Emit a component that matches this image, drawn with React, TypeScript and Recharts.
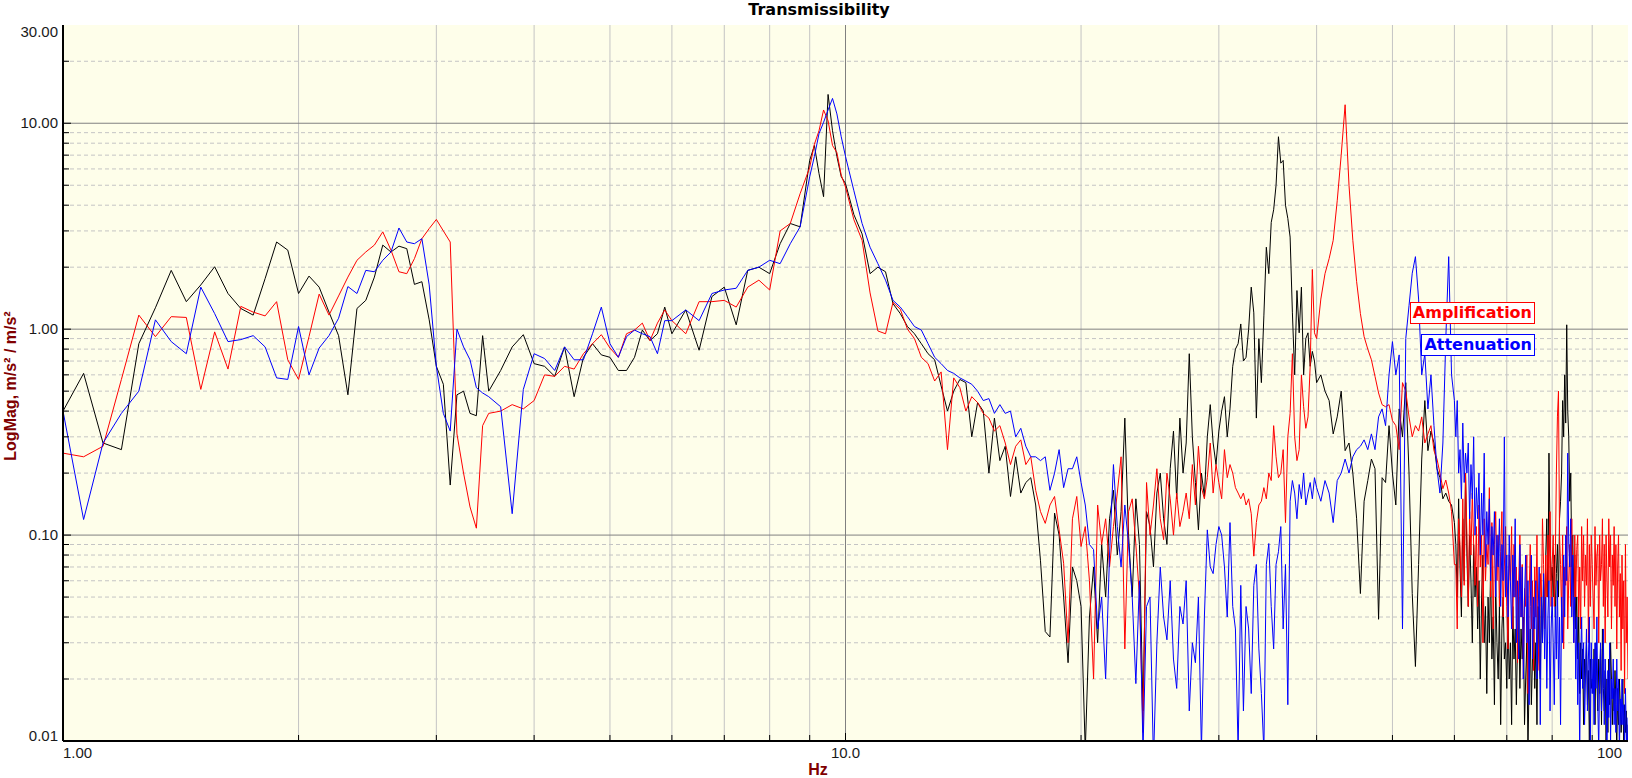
import React from 'react';
import { LineChart, Line, XAxis, YAxis, CartesianGrid } from 'recharts';

// Frequency grid segments (start Hz, step Hz)
const SEG_START = [1, 3.5, 6.25, 9.125, 10, 40.5, 60.25];
const SEG_STEP = [0.0625, 0.125, 0.25, 0.125, 0.25, 0.5, 0.25];

// ---------- Amplification (red) ----------
const ampA = [0.25, 0.24, 0.27, 0.57, 1.17, 0.92, 1.15, 1.14, 0.51, 0.97, 0.64, 1.29, 1.21, 1.16, 1.36, 0.71, 0.57, 0.92, 1.48, 1.17,
  1.45, 1.79, 2.16, 2.37, 2.56, 2.97, 2.42, 1.9, 1.86, 2.2, 2.75, 3.08, 3.41, 3.0, 2.65, 0.31, 0.2, 0.137, 0.108, 0.34];
const ampB = [0.39, 0.4, 0.43, 0.41, 0.45, 0.6, 0.59, 0.66, 0.64, 0.76, 0.85, 0.94, 0.81, 0.73, 0.95, 0.99, 1.07, 0.88, 1.07, 1.24, 1.1];
const ampC = [0.95, 1.36, 1.36, 1.38, 1.28, 1.6, 1.73, 1.55, 3.0, 3.26, 4.55, 6.1];
const ampD = [7.9, 9.2, 11.6, 10.3, 7.8, 7.2, 5.6];
const ampE = [
  4.9, 3.4, 2.7, 1.5, 0.98,
  0.95, 1.35, 1.25, 1.0, 0.9, 0.73, 0.68, 0.56, 0.62, 0.26, 0.58, 0.52,
  0.4, 0.47, 0.44, 0.39, 0.37, 0.32, 0.34, 0.28, 0.22, 0.27, 0.29, 0.22,
  0.24, 0.165, 0.13, 0.114, 0.14, 0.154, 0.106, 0.073, 0.03, 0.12, 0.154, 0.088,
  0.11, 0.06, 0.02, 0.14,
  0.09, 0.12, 0.07, 0.11,
  0.16, 0.24, 0.028, 0.13,
  0.15, 0.09, 0.05, 0.011,
  0.18, 0.1, 0.14, 0.21,
  0.12, 0.095, 0.2, 0.15,
  0.1, 0.16, 0.11, 0.13,
  0.16, 0.12, 0.22, 0.14,
  0.27, 0.17, 0.15, 0.19,
  0.28, 0.16, 0.22, 0.18,
  0.15, 0.26, 0.19, 0.22,
  0.2, 0.17, 0.16, 0.15,
  0.16, 0.14, 0.15, 0.127,
  0.079, 0.115, 0.14, 0.146,
  0.17, 0.15, 0.2, 0.184,
  0.34, 0.24, 0.19, 0.2,
  0.26, 0.115, 0.3, 0.39,
  0.76, 0.3, 0.23, 0.26,
  0.6, 0.42, 0.33, 0.375,
  0.66, 1.95, 0.96, 0.9,
];
const ampF = [
  1.4, 1.86, 2.2, 2.7, 4.2, 7.0, 12.3, 5.0, 2.7, 1.7, 1.19, 0.92, 0.8, 0.71, 0.59, 0.49, 0.43, 0.42, 0.43, 0.36,
  0.34, 0.26, 0.55, 0.5, 0.375, 0.3, 0.34, 0.32, 0.375, 0.28, 0.31, 0.34, 0.257, 0.234, 0.2, 0.168, 0.185, 0.16, 0.13, 0.072,
];
const ampG = [
  0.072, 0.035, 0.12, 0.09, 0.05, 0.15, 0.057, 0.2,
  0.1, 0.045, 0.13, 0.08, 0.16, 0.09, 0.057, 0.11,
  0.045, 0.14, 0.07, 0.1, 0.03, 0.12, 0.06, 0.09,
  0.072, 0.17, 0.05, 0.115, 0.035, 0.09, 0.13, 0.06,
  0.1, 0.045, 0.083, 0.13, 0.04, 0.07, 0.11, 0.045,
  0.028, 0.08, 0.06, 0.11, 0.035, 0.09, 0.05, 0.07,
  0.024, 0.06, 0.1, 0.04, 0.072, 0.02, 0.055, 0.045,
  0.08, 0.017, 0.05, 0.09, 0.035, 0.06, 0.022, 0.07,
  0.04, 0.1, 0.03, 0.022, 0.065, 0.045, 0.12, 0.072,
  0.035, 0.08, 0.05, 0.1, 0.06, 0.13, 0.045, 0.072,
  0.1, 0.045, 0.08, 0.2, 0.375, 0.5, 0.1, 0.072,
  0.04, 0.1, 0.028, 0.07, 0.057, 0.11, 0.035, 0.06,
  0.09, 0.045, 0.12, 0.06, 0.03, 0.1, 0.05, 0.085,
  0.1, 0.04, 0.07, 0.035, 0.11, 0.06, 0.1, 0.045,
  0.08, 0.057, 0.12, 0.03, 0.09, 0.045, 0.1, 0.072,
  0.05, 0.035, 0.11, 0.057, 0.08, 0.09, 0.03, 0.1,
  0.06, 0.072, 0.12, 0.045, 0.09, 0.03, 0.1, 0.06,
  0.04, 0.12, 0.07, 0.1, 0.035, 0.08, 0.057, 0.11,
  0.045, 0.09, 0.028, 0.07, 0.1, 0.04, 0.065, 0.022,
  0.08, 0.035, 0.06, 0.017, 0.09, 0.03, 0.05, 0.02,
];

// ---------- Attenuation (blue) ----------
const attA = [0.4, 0.119, 0.28, 0.39, 0.5, 1.11, 0.87, 0.76, 1.6, 1.19, 0.87, 0.89, 0.93, 0.82, 0.58, 0.57, 1.03, 0.6, 0.81, 0.93,
  1.13, 1.61, 1.49, 1.93, 1.9, 2.16, 2.37, 3.1, 2.65, 2.6, 2.75, 1.64, 0.66, 0.39, 0.32, 1.0, 0.82, 0.71, 0.52, 0.49];
const attB = [0.47, 0.42, 0.127, 0.51, 0.76, 0.72, 0.63, 0.82, 0.71, 0.71, 0.95, 1.28, 0.85, 0.73, 0.92, 0.99, 0.95, 0.92, 0.76, 1.1, 1.1];
const attC = [1.24, 1.1, 1.49, 1.55, 1.58, 1.93, 2.0, 2.16, 2.08, 2.6, 3.14, 5.5];
const attD = [6.9, 8.9, 10.1, 11.6, 13.2, 11.1, 8.6];
const attE = [
  6.9, 4.7, 3.26, 2.5, 2.08,
  1.73, 1.38, 1.28, 1.15, 1.03, 0.99, 0.85, 0.73, 0.68, 0.63, 0.61, 0.58,
  0.56, 0.54, 0.5, 0.45, 0.46, 0.39, 0.43, 0.39, 0.4, 0.3, 0.33, 0.27,
  0.24, 0.24, 0.23, 0.24, 0.165, 0.2, 0.26, 0.17, 0.21, 0.21, 0.24, 0.18,
  0.14, 0.09, 0.085, 0.035,
  0.05, 0.02, 0.08, 0.22,
  0.11, 0.07, 0.14, 0.09,
  0.05, 0.019, 0.06, 0.009,
  0.045, 0.05, 0.008, 0.03,
  0.07, 0.04, 0.031, 0.06,
  0.025, 0.018, 0.045, 0.037,
  0.06, 0.014, 0.03, 0.024,
  0.05, 0.009, 0.04, 0.106,
  0.07, 0.065, 0.09, 0.11,
  0.1, 0.07, 0.04, 0.115,
  0.045, 0.035, 0.009, 0.057,
  0.014, 0.045, 0.035, 0.017,
  0.057, 0.072, 0.028, 0.017,
  0.009, 0.072, 0.091, 0.045,
  0.028, 0.072, 0.083, 0.11,
  0.035, 0.072, 0.015, 0.146,
  0.184, 0.16, 0.12, 0.176,
  0.15, 0.2, 0.14, 0.16,
  0.18, 0.15, 0.19, 0.17,
];
const attF = [
  0.146, 0.184, 0.16, 0.115, 0.184, 0.2, 0.234, 0.2, 0.24, 0.26, 0.27, 0.29, 0.26, 0.31, 0.26, 0.375, 0.41, 0.34, 0.6, 0.87,
  0.6, 0.75, 0.035, 0.9, 1.3, 1.87, 2.25, 1.4, 0.6, 0.76, 0.41, 0.6, 0.34, 0.21, 0.16, 0.28, 0.9, 2.25, 0.6, 0.45,
];
const attG = [
  0.3, 0.45, 0.2, 0.26, 0.15, 0.35, 0.18, 0.25,
  0.2, 0.28, 0.12, 0.22, 0.15, 0.3, 0.1, 0.17,
  0.12, 0.2, 0.08, 0.16, 0.1, 0.25, 0.07, 0.13,
  0.09, 0.15, 0.06, 0.11, 0.08, 0.13, 0.05, 0.1,
  0.07, 0.12, 0.045, 0.09, 0.06, 0.3, 0.05, 0.08,
  0.04, 0.1, 0.06, 0.035, 0.08, 0.05, 0.12, 0.03,
  0.06, 0.025, 0.09, 0.04, 0.07, 0.02, 0.05, 0.08,
  0.03, 0.06, 0.015, 0.045, 0.08, 0.025, 0.05, 0.035,
  0.06, 0.02, 0.04, 0.07, 0.012, 0.05, 0.03, 0.065,
  0.025, 0.05, 0.018, 0.04, 0.06, 0.014, 0.035, 0.05,
  0.03, 0.015, 0.045, 0.025, 0.06, 0.02, 0.04, 0.012,
  0.05, 0.03, 0.08, 0.04, 0.1, 0.06, 0.25, 0.09,
  0.07, 0.12, 0.04, 0.08, 0.03, 0.05, 0.02, 0.04,
  0.015, 0.03, 0.009, 0.025, 0.04, 0.018, 0.03, 0.012,
  0.02, 0.035, 0.014, 0.025, 0.04, 0.01, 0.03, 0.017,
  0.025, 0.012, 0.03, 0.018, 0.04, 0.015, 0.009, 0.022,
  0.03, 0.014, 0.02, 0.035, 0.012, 0.025, 0.018, 0.009,
  0.022, 0.013, 0.03, 0.01, 0.02, 0.016, 0.025, 0.012,
  0.018, 0.011, 0.025, 0.014, 0.02, 0.009, 0.016, 0.012,
  0.02, 0.012, 0.015, 0.009, 0.018, 0.011, 0.008, 0.013,
];

// ---------- Reference (black, not in legend) ----------
const refA = [0.4, 0.61, 0.28, 0.26, 0.85, 1.27, 1.93, 1.36, 1.64, 2.01, 1.49, 1.26, 1.17, 1.76, 2.65, 2.42, 1.49, 1.81, 1.6, 1.21,
  0.93, 0.48, 1.26, 1.38, 1.79, 2.56, 2.37, 2.53, 2.46, 1.65, 1.7, 1.11, 0.66, 0.54, 0.175, 0.48, 0.5, 0.39, 0.38, 0.93];
const refB = [0.5, 0.63, 0.82, 0.94, 0.68, 0.66, 0.59, 0.82, 0.47, 0.73, 0.85, 0.75, 0.73, 0.63, 0.63, 0.73, 0.99, 0.88, 0.95, 1.28, 0.95];
const refC = [1.24, 0.79, 1.44, 1.6, 1.05, 1.93, 2.0, 1.86, 2.6, 3.26, 3.14, 6.6];
const refD = [7.8, 5.7, 4.4, 13.8, 9.2, 6.9, 5.5];
const refE = [
  5.1, 3.6, 2.9, 1.86, 2.0,
  1.9, 1.33, 1.19, 1.03, 0.95, 0.85, 0.76, 0.71, 0.53, 0.4, 0.5, 0.57,
  0.55, 0.3, 0.44, 0.4, 0.2, 0.37, 0.23, 0.27, 0.154, 0.24, 0.16, 0.18,
  0.19, 0.14, 0.075, 0.034, 0.032, 0.128, 0.1, 0.05, 0.024, 0.07, 0.06, 0.045,
  0.009, 0.04, 0.07, 0.03,
  0.09, 0.05, 0.12, 0.165,
  0.08, 0.13, 0.37, 0.1,
  0.05, 0.15, 0.09, 0.014,
  0.13, 0.11, 0.07, 0.16,
  0.2, 0.12, 0.09, 0.21,
  0.32, 0.15, 0.37, 0.2,
  0.28, 0.76, 0.3, 0.18,
  0.106, 0.2, 0.154, 0.3,
  0.43, 0.28, 0.22, 0.32,
  0.4, 0.47, 0.3, 0.41,
  0.66, 0.8, 0.85, 1.06,
  0.7, 0.73, 1.0, 1.6,
  1.2, 0.37, 0.9, 0.55,
  1.16, 2.5, 1.86, 3.3,
  3.8, 5.0, 8.6, 6.4,
  6.6, 4.0, 3.45, 2.8,
  1.2, 0.6, 1.54, 0.96,
  1.6, 0.6, 0.9, 0.96,
  0.66, 0.78, 0.7, 0.55,
];
const refF = [
  0.6, 0.5, 0.45, 0.31, 0.375, 0.5, 0.257, 0.28, 0.2, 0.12, 0.052, 0.146, 0.184, 0.234, 0.21, 0.039, 0.19, 0.18, 0.34, 0.2,
  0.14, 0.41, 0.3, 0.55, 0.2, 0.052, 0.023, 0.072, 0.234, 0.45, 0.257, 0.32, 0.28, 0.21, 0.19, 0.15, 0.16, 0.146, 0.14, 0.115,
];
const refG = [
  0.09, 0.05, 0.15, 0.07, 0.04, 0.12, 0.06, 0.2,
  0.08, 0.045, 0.1, 0.06, 0.03, 0.09, 0.05, 0.07,
  0.035, 0.06, 0.02, 0.05, 0.08, 0.03, 0.045, 0.017,
  0.05, 0.03, 0.07, 0.025, 0.04, 0.015, 0.06, 0.03,
  0.02, 0.045, 0.012, 0.035, 0.05, 0.025, 0.03, 0.018,
  0.04, 0.02, 0.03, 0.012, 0.045, 0.025, 0.035, 0.015,
  0.03, 0.05, 0.018, 0.035, 0.025, 0.04, 0.012, 0.02,
  0.03, 0.009, 0.02, 0.035, 0.015, 0.025, 0.04, 0.018,
  0.03, 0.012, 0.045, 0.025, 0.02, 0.05, 0.03, 0.06,
  0.04, 0.08, 0.12, 0.05, 0.25, 0.1, 0.06, 0.07,
  0.05, 0.08, 0.04, 0.065, 0.09, 0.05, 0.12, 0.146,
  0.2, 0.45, 0.3, 0.6, 0.35, 1.05, 0.4, 0.3,
  0.146, 0.2, 0.07, 0.1, 0.05, 0.08, 0.035, 0.05,
  0.025, 0.04, 0.017, 0.03, 0.02, 0.028, 0.012, 0.025,
  0.02, 0.03, 0.015, 0.022, 0.01, 0.025, 0.018, 0.02,
  0.017, 0.028, 0.012, 0.03, 0.02, 0.014, 0.025, 0.017,
  0.028, 0.012, 0.035, 0.018, 0.014, 0.022, 0.01, 0.02,
  0.011, 0.025, 0.015, 0.03, 0.02, 0.012, 0.018, 0.014,
  0.022, 0.015, 0.009, 0.018, 0.012, 0.02, 0.015, 0.011,
  0.014, 0.02, 0.009, 0.015, 0.011, 0.014, 0.008, 0.012,
];

// ---------- Axes ----------
const X_MINOR = [2, 3, 4, 5, 6, 7, 8, 9, 20, 30, 40, 50, 60, 70, 80, 90];
const X_MAJOR = [10];
const X_TICKS = [1, 2, 3, 4, 5, 6, 7, 8, 9, 10, 20, 30, 40, 50, 60, 70, 80, 90, 100];
const X_LABELS: Record<number, string> = { 1: '1.00', 10: '10.0', 100: '100' };

const Y_MINOR = [0.02, 0.03, 0.04, 0.05, 0.06, 0.07, 0.08, 0.09, 0.2, 0.3, 0.4, 0.5, 0.6, 0.7, 0.8, 0.9, 2, 3, 4, 5, 6, 7, 8, 9, 20];
const Y_MAJOR = [0.1, 1, 10];
const Y_TICKS = [0.01, ...Y_MINOR.slice(0, 8), 0.1, ...Y_MINOR.slice(8, 16), 1, ...Y_MINOR.slice(16, 24), 10, 20, 30];
const Y_LABELS: Record<number, string> = { 0.01: '0.01', 0.1: '0.10', 1: '1.00', 10: '10.00', 30: '30.00' };

const SERIES = [
  { key: 'ref', name: 'Reference', color: '#000000', legend: false, segs: [refA, refB, refC, refD, refE, refF, refG] },
  { key: 'amp', name: 'Amplification', color: '#ff0000', legend: true, segs: [ampA, ampB, ampC, ampD, ampE, ampF, ampG] },
  { key: 'att', name: 'Attenuation', color: '#0000ff', legend: true, segs: [attA, attB, attC, attD, attE, attF, attG] },
];

const buildData = (segs: number[][]) =>
  segs.flatMap((vals, s) => vals.map((v, k) => ({ f: SEG_START[s] + k * SEG_STEP[s], v })));

const TICK_FONT = "'Liberation Sans', Arial, sans-serif";
const Y_TICK_MARGIN = 5;

const YTick = (props: any) => {
  const { x, y, payload } = props;
  const v = payload.value;
  const axisX = x + Y_TICK_MARGIN;
  const label = Y_LABELS[v];
  const isMajor = Y_MAJOR.includes(v);
  const showMark = v !== 30 && v !== 0.01;
  let dy = 5;
  if (v === 30) dy = 12;
  if (v === 0.01) dy = 0;
  return (
    <g>
      {showMark && <line x1={axisX} x2={axisX + (isMajor ? 8 : 6)} y1={y} y2={y} stroke="#000" strokeWidth={1} />}
      {label && (
        <text x={x} y={y + dy} textAnchor="end" fontSize={15} fontFamily={TICK_FONT} fill="#1a1a1a">
          {label}
        </text>
      )}
    </g>
  );
};

const XTick = (props: any) => {
  const { x, y, payload } = props;
  const v = payload.value;
  const label = X_LABELS[v];
  const isMajor = X_MAJOR.includes(v);
  const showMark = v !== 1 && v !== 100;
  let anchor: 'start' | 'middle' | 'end' = 'middle';
  let tx = x;
  if (v === 1) anchor = 'start';
  if (v === 100) { anchor = 'end'; tx = x - 6; }
  return (
    <g>
      {showMark && <line x1={x} x2={x} y1={y} y2={y - (isMajor ? 8 : 6)} stroke="#000" strokeWidth={1} />}
      {label && (
        <text x={tx} y={y + 17} textAnchor={anchor} fontSize={15} fontFamily={TICK_FONT} fill="#1a1a1a">
          {label}
        </text>
      )}
    </g>
  );
};

const LEGEND_RIGHT = 1535;
const LEGEND_TOPS = [302, 334];

export default function App() {
  const legendSeries = SERIES.filter((s) => s.legend);
  return (
    <div style={{ position: 'absolute', left: 0, top: 0, width: 1632, height: 778, background: '#ffffff' }}>
      <LineChart width={1632} height={778} margin={{ top: 25, right: 4, bottom: 0, left: 0 }}>
        <CartesianGrid fill="#fefeea" stroke="#c4c4c4" strokeDasharray="4 3" vertical={false} horizontalValues={Y_MINOR} />
        <CartesianGrid stroke="#c4c4c4" horizontal={false} verticalValues={X_MINOR} />
        <CartesianGrid stroke="#808080" horizontalValues={Y_MAJOR} verticalValues={X_MAJOR} />
        <XAxis
          type="number"
          dataKey="f"
          scale="log"
          domain={[1, 100]}
          allowDataOverflow
          ticks={X_TICKS}
          interval={0}
          height={37}
          tickSize={0}
          tickMargin={0}
          tickLine={false}
          axisLine={{ stroke: '#000', strokeWidth: 2 }}
          tick={XTick}
        />
        <YAxis
          type="number"
          scale="log"
          domain={[0.01, 30]}
          allowDataOverflow
          ticks={Y_TICKS}
          interval={0}
          width={63}
          tickSize={0}
          tickMargin={Y_TICK_MARGIN}
          tickLine={false}
          axisLine={{ stroke: '#000', strokeWidth: 2 }}
          tick={YTick}
        />
        {SERIES.map((s) => (
          <Line
            key={s.key}
            data={buildData(s.segs)}
            dataKey="v"
            name={s.name}
            type="linear"
            stroke={s.color}
            strokeWidth={1}
            dot={false}
            activeDot={false}
            isAnimationActive={false}
          />
        ))}
      </LineChart>
      <svg width={1632} height={778} style={{ position: 'absolute', left: 0, top: 0, pointerEvents: 'none' }}>
        <text x={819} y={15} textAnchor="middle" fontSize={16} fontWeight="bold" fontFamily="'DejaVu Sans', Verdana, sans-serif" fill="#000">
          Transmissibility
        </text>
        <text x={818} y={775} textAnchor="middle" fontSize={16} fontWeight="bold" fontFamily={TICK_FONT} fill="#800000">
          Hz
        </text>
        <text
          x={16}
          y={386}
          textAnchor="middle"
          fontSize={16}
          fontWeight="bold"
          fontFamily={TICK_FONT}
          fill="#800000"
          transform="rotate(-90 16 386)"
        >
          LogMag, m/s² / m/s²
        </text>
      </svg>
      {legendSeries.map((s, i) => (
        <div
          key={s.key}
          style={{
            position: 'absolute',
            right: 1632 - LEGEND_RIGHT,
            top: LEGEND_TOPS[i],
            border: `1.5px solid ${s.color}`,
            background: '#ffffff',
            color: s.color,
            fontFamily: "'DejaVu Sans', Verdana, sans-serif",
            fontWeight: 'bold',
            fontSize: 16,
            lineHeight: '18px',
            padding: '1px 2px',
            whiteSpace: 'nowrap',
          }}
        >
          {s.name}
        </div>
      ))}
    </div>
  );
}
